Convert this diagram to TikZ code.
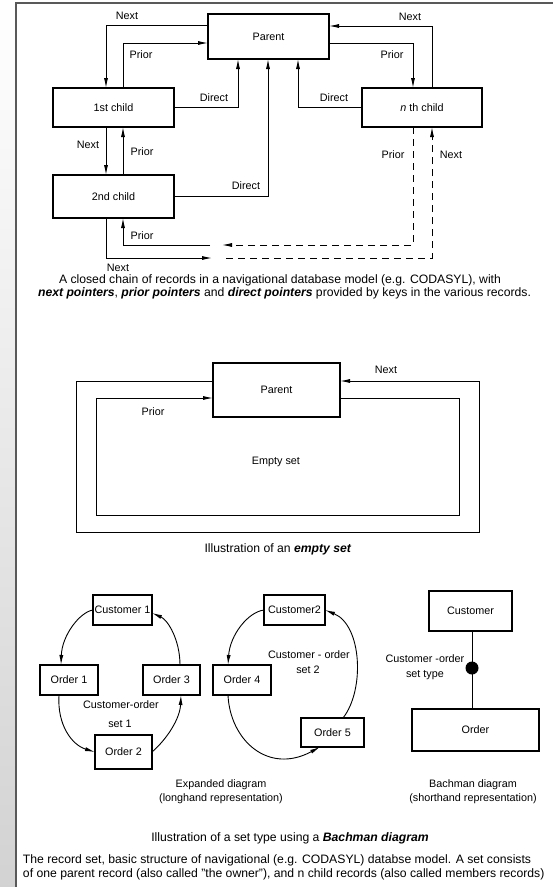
\documentclass[tikz,border=0pt]{standalone}
\usepackage{fontspec}
\setmainfont{Liberation Sans}
\usetikzlibrary{arrows.meta}
\begin{document}
\begin{tikzpicture}[x=1pt,y=-1pt,
  every node/.style={inner sep=0pt,outer sep=0pt,font=\fontsize{10.8}{12}\selectfont},
  rec/.style={draw,line width=2.2pt,inner sep=0pt},
  mrec/.style={draw,line width=1.6pt,inner sep=0pt},
  link/.style={line width=0.9pt},
  arr/.style={link,-{Latex[length=10pt,width=4pt]}},
  dsh/.style={dash pattern=on 7pt off 5pt},
  lbl/.style={font=\fontsize{10.8}{12}\selectfont},
  captext/.style={font=\fontsize{12.2}{14}\selectfont}]
\useasboundingbox (0,0) rectangle (553,887);
% page frame and shadow strip
\shade[top color=white,bottom color=gray!35] (0,0) rectangle (15,887);
\draw[line width=2.5pt,gray!70!black] (16,887) -- (16,3) -- (553,3);

% ---------- closed chain of records ----------
\node[rec,minimum width=121pt,minimum height=45pt] (parent) at (268.5,36.5) {Parent};
\node[rec,minimum width=121pt,minimum height=39pt] (c1) at (113.5,107.5) {1st child};
\node[rec,minimum width=121pt,minimum height=43pt] (c2) at (113.5,196.5) {2nd child};
\node[rec,minimum width=120pt,minimum height=39pt] (cn) at (422,107.5) {\textit{n} th child};

\draw[arr] (parent.west |- 0,25) -| (106,0 |- c1.north);
\draw[arr] (123,0 |- c1.north) |- (parent.west |- 0,43);
\draw[arr] (c1.east) -| (238,0 |- parent.south);
\draw[arr] (106,0 |- c1.south) -- (106,0 |- c2.north);
\draw[arr] (123,0 |- c2.north) -- (123,0 |- c1.south);
\draw[arr] (c2.east) -| (268,0 |- parent.south);
\draw[arr] (cn.west) -| (298,0 |- parent.south);
\draw[arr] (432,0 |- cn.north) |- (parent.east |- 0,26);
\draw[arr] (parent.east |- 0,43) -| (413,0 |- cn.north);

\coordinate (pgapR) at (222,245);
\coordinate (pgapL) at (210,245);
\coordinate (ngapL) at (212,258);
\coordinate (ngapR) at (226,258);
\draw[arr,dsh] (413,0 |- cn.south) |- (pgapR);
\draw[arr] (pgapL) -| (123,0 |- c2.south);
\draw[arr] (106,0 |- c2.south) |- (ngapL);
\draw[arr,dsh] (ngapR) -| (432,0 |- cn.south);

\node[lbl] (l1) at (127,16) {Next};
\node[lbl] (l2) at (141,55) {Prior};
\node[lbl] (l3) at (214,98) {Direct};
\node[lbl] (l4) at (410,17) {Next};
\node[lbl] (l5) at (392,55) {Prior};
\node[lbl] (l6) at (334,98) {Direct};
\node[lbl] (l7) at (88,145) {Next};
\node[lbl] (l8) at (142,152) {Prior};
\node[lbl] (l9) at (246,186) {Direct};
\node[lbl] (l10) at (142,236) {Prior};
\node[lbl] (l11) at (118,268) {Next};
\node[lbl] (l12) at (393,155) {Prior};
\node[lbl] (l13) at (451,155) {Next};

\node[captext] (capa1) at (280,280) {A closed chain of records in a navigational database model (e.g. CODASYL), with};
\node[captext] (capa2) at (284.5,293.5) {\textbf{\textit{next pointers}}, \textbf{\textit{prior pointers}} and \textbf{\textit{direct pointers}} provided by keys in the various records.};

% ---------- empty set ----------
\node[rec,minimum width=127pt,minimum height=54pt] (parent2) at (276.5,390) {Parent};
\draw[arr] (parent2.west |- 0,381) -| (76,532) -| (479,381) -- (parent2.east |- 0,381);
\draw[arr] (parent2.east |- 0,398) -| (459,515) -| (96,398) -- (parent2.west |- 0,398);
\node[lbl] (m1) at (386,370) {Next};
\node[lbl] (m2) at (153,412) {Prior};
\node[lbl] (m3) at (276,462) {Empty set};
\node[captext] (capb) at (278,549) {Illustration of an \textbf{\textit{empty set}}};

% ---------- set type: expanded and Bachman diagrams ----------
\node[mrec,minimum width=59pt,minimum height=30pt] (cust1) at (122.5,610) {Customer 1};
\node[mrec,minimum width=58pt,minimum height=30pt] (ord1) at (69,680) {Order 1};
\node[mrec,minimum width=57pt,minimum height=30pt] (ord3) at (171.5,680) {Order 3};
\node[mrec,minimum width=57pt,minimum height=34pt] (ord2) at (123.5,752) {Order 2};
\node[mrec,minimum width=61pt,minimum height=30pt] (cust2) at (294.5,610) {Customer2};
\node[mrec,minimum width=58pt,minimum height=30pt] (ord4) at (242,680) {Order 4};
\node[mrec,minimum width=63pt,minimum height=29pt] (ord5) at (332.5,732.5) {Order 5};

\draw[arr] (cust1.west) .. controls (80,612) and (62,635) .. (61,0 |- ord1.north);
\draw[arr] (59,0 |- ord1.south) .. controls (57,725) and (72,745) .. (ord2.west);
\draw[arr] (ord2.east) .. controls (168,738) and (180,718) .. (181,0 |- ord3.south);
\draw[arr] (180,0 |- ord3.north) .. controls (180,640) and (168,620) .. (152,613);
\draw[arr] (cust2.west) .. controls (248,612) and (230,635) .. (228,0 |- ord4.north);
\draw[arr] (228,0 |- ord4.south) .. controls (230,740) and (268,775) .. (320,0 |- ord5.south);
\draw[arr] (343,0 |- ord5.north) .. controls (365,690) and (362,625) .. (cust2.east);

\node[lbl] (b1) at (121,705) {Customer-order};
\node[lbl] (b2) at (120,724) {set 1};
\node[lbl] (b3) at (309,655) {Customer - order};
\node[lbl] (b4) at (308,670) {set 2};

\node[rec,minimum width=83pt,minimum height=40pt] (custB) at (470.5,611) {Customer};
\node[rec,minimum width=127pt,minimum height=42pt] (ordB) at (475.5,730) {Order};
\draw[link] (472,0 |- custB.south) -- (472,0 |- ordB.north);
\node[circle,fill,minimum size=13pt] (dot) at (472,668) {};
\node[lbl] (b5) at (425,659) {Customer -order};
\node[lbl] (b6) at (425,675) {set type};

\node[lbl] (e1) at (221,785) {Expanded diagram};
\node[lbl] (e2) at (221,799) {(longhand representation)};
\node[lbl] (e3) at (473,785) {Bachman diagram};
\node[lbl] (e4) at (473,799) {(shorthand representation)};
\node[captext] (capc) at (290,838) {Illustration of a set type using a \textbf{\textit{Bachman diagram}}};
\node[captext,anchor=west] (capd1) at (23,860) {The record set, basic structure of navigational (e.g. CODASYL) databse model. A set consists};
\node[captext,anchor=west] (capd2) at (23,874) {of one parent record (also called "the owner"), and n child records (also called members records)};
\end{tikzpicture}
\end{document}
